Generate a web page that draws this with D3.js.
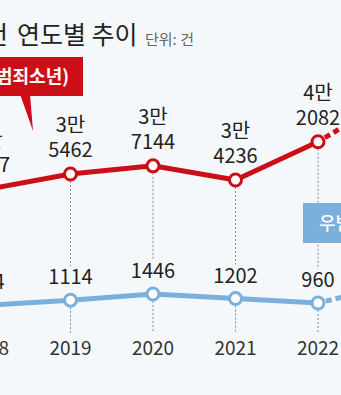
<!DOCTYPE html>
<html><head><meta charset="utf-8">
<script src="https://cdn.jsdelivr.net/npm/d3@7"></script>
<style>
html,body{margin:0;padding:0;background:#f5f8fb;}
svg{display:block;}
text{font-family:"Noto Sans CJK KR","Noto Sans",sans-serif;}
</style></head>
<body>
<svg id="chart" width="341" height="395"></svg>
<script>
const years = [2018, 2019, 2020, 2021, 2022, 2023];
const redValues = [32357, 35462, 37144, 34236, 42082, 52150];
const blueValues = [834, 1114, 1446, 1202, 960, 2040];
const tickLabels = ["2018", "2019", "2020", "2021", "2022", "2023"];
const redLabel = "전체(범죄소년)";
const blueLabel = "우범소년";
const titleLead = "소년범죄 사건";
const titleMain = "연도별 추이";
const unitText = "단위: 건";

const RED = "#cc0f17", BLUE = "#7cb0dc", BG = "#f5f8fb";
const svg = d3.select("#chart");
svg.append("rect").attr("width", 341).attr("height", 395).attr("fill", BG);

const x = d3.scalePoint().domain(years).range([-12, 400.5]);
const yR = d3.scaleLinear().domain([0, 40000]).range([347.1, 151.9]);
const yB = d3.scaleLinear().domain([0, 1500]).range([320.8, 293.05]);

const data = years.map((yr, i) => ({yr, r: redValues[i], b: blueValues[i], t: tickLabels[i]}));
const solid = data.slice(0, 5), ext = data.slice(4, 6);

// title
svg.append("text").attr("x", 8).attr("y", 44).attr("text-anchor", "end")
  .attr("font-size", 25).attr("font-weight", 400).attr("fill", "#222").text(titleLead);
svg.append("text").attr("x", 17).attr("y", 44)
  .attr("font-size", 25).attr("font-weight", 400).attr("fill", "#222").text(titleMain);
svg.append("text").attr("x", 145).attr("y", 45)
  .attr("font-size", 15).attr("fill", "#666").text(unitText);

// dotted gridlines
const g = svg.append("g").attr("stroke", "#8a8a8a").attr("stroke-width", 1).attr("stroke-dasharray", "2,2");
data.forEach(d => {
  g.append("line").attr("x1", x(d.yr)).attr("x2", x(d.yr))
    .attr("y1", yR(d.r) + 7).attr("y2", yB(d.b) - 34);
  g.append("line").attr("x1", x(d.yr)).attr("x2", x(d.yr))
    .attr("y1", yB(d.b) + 7).attr("y2", 333);
});

// lines
const lineR = d3.line().x(d => x(d.yr)).y(d => yR(d.r));
const lineB = d3.line().x(d => x(d.yr)).y(d => yB(d.b));
svg.append("path").datum(solid).attr("d", lineR).attr("fill", "none").attr("stroke", RED).attr("stroke-width", 5).attr("stroke-linejoin", "round");
svg.append("path").datum(ext).attr("d", lineR).attr("fill", "none").attr("stroke", RED).attr("stroke-width", 5).attr("stroke-dasharray", "6,4").attr("stroke-dashoffset", -8);
svg.append("path").datum(solid).attr("d", lineB).attr("fill", "none").attr("stroke", BLUE).attr("stroke-width", 5).attr("stroke-linejoin", "round");
svg.append("path").datum(ext).attr("d", lineB).attr("fill", "none").attr("stroke", BLUE).attr("stroke-width", 5).attr("stroke-dasharray", "6,4").attr("stroke-dashoffset", -8);

// circles
svg.selectAll("circle.r").data(solid).join("circle").attr("class", "r")
  .attr("cx", d => x(d.yr)).attr("cy", d => yR(d.r)).attr("r", 6)
  .attr("fill", "#fff").attr("stroke", RED).attr("stroke-width", 3);
svg.selectAll("circle.b").data(solid).join("circle").attr("class", "b")
  .attr("cx", d => x(d.yr)).attr("cy", d => yB(d.b)).attr("r", 6)
  .attr("fill", "#fff").attr("stroke", BLUE).attr("stroke-width", 3);

// value labels
solid.forEach(d => {
  const man = Math.floor(d.r / 10000), rest = d.r % 10000;
  svg.append("text").attr("x", x(d.yr)).attr("y", yR(d.r) - 42).attr("text-anchor", "middle")
    .attr("font-size", 20).attr("fill", "#222").text(man + "만");
  svg.append("text").attr("x", x(d.yr)).attr("y", yR(d.r) - 17).attr("text-anchor", "middle")
    .attr("font-size", 20).attr("fill", "#222").text(String(rest));
  svg.append("text").attr("x", x(d.yr)).attr("y", yB(d.b) - 16).attr("text-anchor", "middle")
    .attr("font-size", 20).attr("fill", "#222").text(String(d.b));
});

// tick labels
svg.selectAll("text.tick").data(data).join("text").attr("class", "tick")
  .attr("x", d => x(d.yr)).attr("y", 355).attr("text-anchor", "middle")
  .attr("font-size", 19).attr("fill", "#333").text(d => d.t);

// red callout
svg.append("path").attr("d", "M20,94 L30,94 L33,131 Z").attr("fill", RED);
svg.append("rect").attr("x", -120).attr("y", 57).attr("width", 203).attr("height", 39).attr("fill", RED);
svg.append("text").attr("x", 69).attr("y", 83).attr("text-anchor", "end")
  .attr("font-size", 18).attr("font-weight", 700).attr("fill", "#fff").text(redLabel);

// blue callout
svg.append("rect").attr("x", 303).attr("y", 203).attr("width", 120).attr("height", 40).attr("fill", BLUE);
svg.append("text").attr("x", 319).attr("y", 230)
  .attr("font-size", 18).attr("font-weight", 500).attr("fill", "#fff").text(blueLabel);
</script>
</body></html>
